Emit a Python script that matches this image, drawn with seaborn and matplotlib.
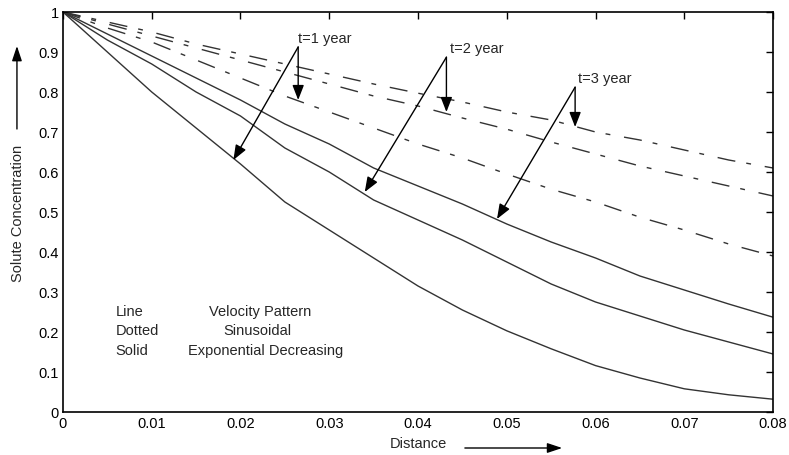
import numpy as np
import pandas as pd
import seaborn as sns
import matplotlib
matplotlib.use("Agg")
import matplotlib.pyplot as plt

DISTANCE = [0, 0.005, 0.01, 0.015, 0.02, 0.025, 0.03, 0.035, 0.04,
            0.045, 0.05, 0.055, 0.06, 0.065, 0.07, 0.075, 0.08]

# solid = exponential decreasing velocity
SOLID_T1 = [1.0, 0.90, 0.80, 0.71, 0.62, 0.525, 0.455, 0.385, 0.315,
            0.255, 0.203, 0.158, 0.116, 0.085, 0.058, 0.043, 0.032]
SOLID_T2 = [1.0, 0.93, 0.87, 0.80, 0.74, 0.66, 0.60, 0.53, 0.48,
            0.43, 0.375, 0.32, 0.275, 0.24, 0.205, 0.175, 0.145]
SOLID_T3 = [1.0, 0.945, 0.89, 0.835, 0.78, 0.72, 0.67, 0.61, 0.565,
            0.52, 0.47, 0.425, 0.385, 0.34, 0.305, 0.27, 0.237]

# dotted = sinusoidal velocity
DOT_T1 = [1.0, 0.96, 0.925, 0.88, 0.835, 0.79, 0.75, 0.71, 0.67,
          0.635, 0.595, 0.557, 0.525, 0.487, 0.455, 0.42, 0.39]
DOT_T2 = [1.0, 0.97, 0.94, 0.91, 0.88, 0.85, 0.82, 0.79, 0.765,
          0.735, 0.707, 0.675, 0.645, 0.615, 0.59, 0.565, 0.54]
DOT_T3 = [1.0, 0.975, 0.95, 0.92, 0.895, 0.87, 0.845, 0.82, 0.797,
          0.775, 0.75, 0.73, 0.70, 0.68, 0.655, 0.63, 0.61]

X_TICKS = [0, 0.01, 0.02, 0.03, 0.04, 0.05, 0.06, 0.07, 0.08]
X_TICKLABELS = ["0", "0.01", "0.02", "0.03", "0.04", "0.05", "0.06", "0.07", "0.08"]
Y_TICKS = [0, 0.1, 0.2, 0.3, 0.4, 0.5, 0.6, 0.7, 0.8, 0.9, 1.0]
Y_TICKLABELS = ["0", "0.1", "0.2", "0.3", "0.4", "0.5", "0.6", "0.7", "0.8", "0.9", "1"]

# (label, text pos, vertex, vertical arrow tip, slanted arrow tip)
CALLOUTS = [
    ("t=1 year", (0.0265, 0.918), (0.0265, 0.9125), (0.0265, 0.78), (0.0192, 0.63)),
    ("t=2 year", (0.0436, 0.892), (0.0432, 0.887), (0.0432, 0.75), (0.0340, 0.55)),
    ("t=3 year", (0.0580, 0.817), (0.0577, 0.812), (0.0577, 0.7125), (0.0489, 0.4825)),
]

LINE_COLOR = "#333333"


def build_df():
    rows = []
    curves = [("s1", "Exponential", SOLID_T1), ("s2", "Exponential", SOLID_T2),
              ("s3", "Exponential", SOLID_T3), ("d1", "Sinusoidal", DOT_T1),
              ("d2", "Sinusoidal", DOT_T2), ("d3", "Sinusoidal", DOT_T3)]
    for name, pattern, vals in curves:
        for x, y in zip(DISTANCE, vals):
            rows.append({"curve": name, "pattern": pattern, "Distance": x, "Conc": y})
    return pd.DataFrame(rows)


def plot_figure(df):
    sns.set_style("white")
    plt.rcParams["font.family"] = ["Liberation Sans", "DejaVu Sans"]

    fig = plt.figure(figsize=(7.89, 4.56), dpi=100)
    ax = fig.add_axes([0.0798, 0.0943, 0.9, 0.8772])

    sns.lineplot(
        data=df, x="Distance", y="Conc",
        units="curve", estimator=None,
        style="pattern",
        dashes={"Exponential": "", "Sinusoidal": (13, 8, 3.5, 10)},
        color=LINE_COLOR, linewidth=1.0,
        legend=False, ax=ax,
    )

    ax.set_xlim(0, 0.08)
    ax.set_ylim(0, 1)
    ax.set_xticks(X_TICKS)
    ax.set_xticklabels(X_TICKLABELS)
    ax.set_yticks(Y_TICKS)
    ax.set_yticklabels(Y_TICKLABELS)
    ax.tick_params(direction="in", length=5, width=1, top=True, right=True,
                   labelsize=10.5, colors="black", pad=3)
    for sp in ax.spines.values():
        sp.set_visible(True)
        sp.set_color("black")
        sp.set_linewidth(1.2)

    ax.set_xlabel("Distance", fontsize=10.5, labelpad=4)
    ax.set_ylabel("Solute Concentration", fontsize=10.5, labelpad=10)

    # axis arrows
    ax.annotate("", xy=(0.703, -0.09), xytext=(0.566, -0.09),
                xycoords="axes fraction", annotation_clip=False,
                arrowprops=dict(arrowstyle="-|>,head_length=0.9,head_width=0.3",
                                color="black", lw=1.0, shrinkA=0, shrinkB=0))
    ax.annotate("", xy=(-0.0648, 0.915), xytext=(-0.0648, 0.7075),
                xycoords="axes fraction", annotation_clip=False,
                arrowprops=dict(arrowstyle="-|>,head_length=0.9,head_width=0.3",
                                color="black", lw=1.0, shrinkA=0, shrinkB=0))

    # callouts
    for label, tpos, vtx, tip_v, tip_s in CALLOUTS:
        ax.text(tpos[0], tpos[1], label, fontsize=10.5, ha="left", va="bottom")
        for tip in (tip_v, tip_s):
            ax.annotate("", xy=tip, xytext=vtx,
                        arrowprops=dict(arrowstyle="-|>,head_length=0.9,head_width=0.35",
                                        color="black", lw=1.0, shrinkA=0, shrinkB=0))

    # line legend as text
    ax.text(0.0059, 0.2525, "Line", fontsize=10.5, va="center")
    ax.text(0.0164, 0.2525, "Velocity Pattern", fontsize=10.5, va="center")
    ax.text(0.0059, 0.205, "Dotted", fontsize=10.5, va="center")
    ax.text(0.0181, 0.205, "Sinusoidal", fontsize=10.5, va="center")
    ax.text(0.0059, 0.155, "Solid", fontsize=10.5, va="center")
    ax.text(0.0141, 0.155, "Exponential Decreasing", fontsize=10.5, va="center")

    fig.savefig("out.png", dpi=100)


if __name__ == "__main__":
    plot_figure(build_df())
